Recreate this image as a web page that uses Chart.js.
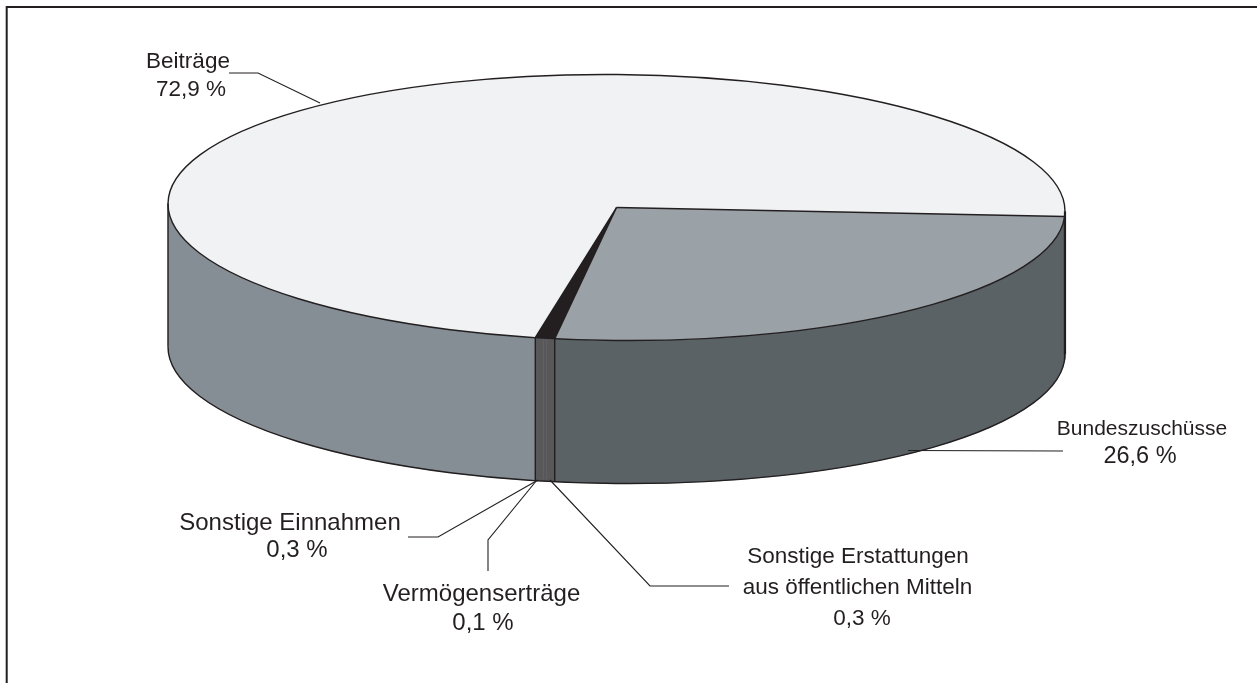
<!DOCTYPE html>
<html lang="de">
<head>
<meta charset="utf-8">
<title>Einnahmen</title>
<style>
  html, body { margin: 0; padding: 0; background: #fff; }
  canvas { display: block; }
</style>
<script src="https://cdn.jsdelivr.net/npm/chart.js@4"></script>
</head>
<body>
<canvas id="pieChart" width="1257" height="683"></canvas>
<script>
// Daten
const categories = ['Bundeszuschüsse', 'Sonstige Erstattungen aus öffentlichen Mitteln', 'Vermögenserträge', 'Sonstige Einnahmen', 'Beiträge'];
const shares = [26.6, 0.3, 0.1, 0.3, 72.9];
const topColors = ['#9aa1a7', '#231f20', '#231f20', '#231f20', '#f1f2f4'];
const sideColors = ['#5a6265', '#58585a', '#58585a', '#58585a', '#868e95'];

// Geometrie der flachgedrückten Torte (leicht gekippt wie im Original)
const pie = { cx: 616.5, cy: 207.5, rx: 448.5, ry: 133, depth: 143, tilt: 0.5 * Math.PI / 180 };
const inkColor = '#231f20';

// Beschriftungen: Zeilen als [Text oder null für den Prozentwert, x, Grundlinie, Schriftgröße]
const labelLayout = [
  { index: 4, lines: [['Beiträge', 188, 68, 22.5], [null, 191, 96, 22.5]] },
  { index: 0, lines: [['Bundeszuschüsse', 1142, 435, 21], [null, 1140, 463, 23.5]] },
  { index: 3, lines: [['Sonstige Einnahmen', 290, 530, 24], [null, 297, 557, 24]] },
  { index: 2, lines: [['Vermögenserträge', 481.5, 601, 24], [null, 483, 630, 24]] },
  { index: 1, lines: [['Sonstige Erstattungen', 858, 563, 22.5], ['aus öffentlichen Mitteln', 857.5, 594, 22.5], [null, 862, 625, 22.5]] }
];
const leaders = [
  [[229, 73], [258, 73], [320, 103]],
  [[908, 450.5], [1063, 451]],
  [[408, 537], [438, 537], [538, 480]],
  [[488, 571], [488, 540], [537, 480]],
  [[729, 586], [650, 586], [550, 480]]
];

function percentText(value) {
  return value.toFixed(1).replace('.', ',') + ' %';
}

// Punkt auf dem Deckelrand
function rimPoint(angle) {
  const ex = pie.rx * Math.cos(angle);
  const ey = pie.ry * Math.sin(angle);
  return {
    x: pie.cx + ex * Math.cos(pie.tilt) - ey * Math.sin(pie.tilt),
    y: pie.cy + ex * Math.sin(pie.tilt) + ey * Math.cos(pie.tilt)
  };
}

// Seitenwand eines Winkelbereichs als Pfad
function sidePath(ctx, a, b) {
  ctx.beginPath();
  ctx.ellipse(pie.cx, pie.cy, pie.rx, pie.ry, pie.tilt, a, b);
  ctx.ellipse(pie.cx, pie.cy + pie.depth, pie.rx, pie.ry, pie.tilt, b, a, true);
  ctx.closePath();
}

function drawSides(chart, ctx) {
  const arcs = chart.getDatasetMeta(0).data;
  arcs.forEach((arc, i) => {
    [0, -2 * Math.PI].forEach(shift => {
      const a = Math.max(arc.startAngle + shift, 0);
      const b = Math.min(arc.endAngle + shift, Math.PI);
      if (b <= a) return;
      sidePath(ctx, a, b);
      ctx.fillStyle = sideColors[i];
      ctx.strokeStyle = sideColors[i];
      ctx.lineWidth = 0.6;
      ctx.fill();
      ctx.stroke();
    });
  });
}

function drawOutlines(chart, ctx) {
  const arcs = chart.getDatasetMeta(0).data;

  // schmale Stücke zu einem dunklen Keil zusammenziehen, sonst bleiben helle Nähte
  ctx.fillStyle = topColors[1];
  ctx.beginPath();
  ctx.moveTo(pie.cx, pie.cy);
  ctx.ellipse(pie.cx, pie.cy, pie.rx, pie.ry, pie.tilt, arcs[1].startAngle, arcs[3].endAngle);
  ctx.closePath();
  ctx.fill();

  ctx.strokeStyle = inkColor;
  ctx.lineWidth = 1.4;

  // Deckel und vordere Unterkante
  ctx.beginPath();
  ctx.ellipse(pie.cx, pie.cy, pie.rx, pie.ry, pie.tilt, 0, 2 * Math.PI);
  ctx.stroke();
  ctx.beginPath();
  ctx.ellipse(pie.cx, pie.cy + pie.depth, pie.rx, pie.ry, pie.tilt, 0, Math.PI);
  ctx.stroke();

  // äußere Senkrechten
  [0, Math.PI].forEach(angle => {
    const p = rimPoint(angle);
    ctx.beginPath();
    ctx.moveTo(p.x, p.y);
    ctx.lineTo(p.x, p.y + pie.depth);
    ctx.lineWidth = angle === 0 ? 2.2 : 1.4;
    ctx.stroke();
  });
  ctx.lineWidth = 1.4;

  arcs.forEach((arc, i) => {
    const next = (i + 1) % arcs.length;
    // Trennlinien nur dort, wo die Farbe wechselt
    if (topColors[i] === topColors[next]) return;
    const p = rimPoint(arc.endAngle);
    ctx.beginPath();
    ctx.moveTo(pie.cx, pie.cy);
    ctx.lineTo(p.x, p.y);
    ctx.stroke();
    if (Math.sin(arc.endAngle) > 0) {
      ctx.beginPath();
      ctx.moveTo(p.x, p.y);
      ctx.lineTo(p.x, p.y + pie.depth);
      ctx.stroke();
    }
  });
}

function drawLabels(ctx) {
  ctx.strokeStyle = inkColor;
  ctx.lineWidth = 1.1;
  leaders.forEach(points => {
    ctx.beginPath();
    points.forEach((p, i) => i ? ctx.lineTo(p[0], p[1]) : ctx.moveTo(p[0], p[1]));
    ctx.stroke();
  });

  ctx.fillStyle = inkColor;
  ctx.textAlign = 'center';
  ctx.textBaseline = 'alphabetic';
  labelLayout.forEach(label => {
    label.lines.forEach(line => {
      const text = line[0] === null ? percentText(shares[label.index]) : line[0];
      ctx.font = line[3] + 'px "Liberation Sans", Arial, sans-serif';
      ctx.fillText(text, line[1], line[2]);
    });
  });
}

function drawFrame(chart, ctx) {
  ctx.strokeStyle = inkColor;
  ctx.lineWidth = 2;
  ctx.beginPath();
  ctx.moveTo(6.7, chart.height);
  ctx.lineTo(6.7, 7);
  ctx.lineTo(chart.width, 7);
  ctx.stroke();
}

// Plugin: die Tortenstücke der Bibliothek auf die Ellipse abbilden
const pie3d = {
  id: 'pie3d',
  beforeDatasetsDraw(chart) {
    const ctx = chart.ctx;
    const first = chart.getDatasetMeta(0).data[0];
    drawFrame(chart, ctx);
    drawSides(chart, ctx);
    ctx.save();
    ctx.translate(pie.cx, pie.cy);
    ctx.rotate(pie.tilt);
    ctx.scale(pie.rx / first.outerRadius, pie.ry / first.outerRadius);
    ctx.translate(-first.x, -first.y);
  },
  afterDatasetsDraw(chart) {
    const ctx = chart.ctx;
    ctx.restore();
    drawOutlines(chart, ctx);
    drawLabels(ctx);
  }
};

new Chart(document.getElementById('pieChart').getContext('2d'), {
  type: 'pie',
  data: {
    labels: categories,
    datasets: [{
      data: shares,
      backgroundColor: topColors,
      borderWidth: 0,
      clip: false
    }]
  },
  options: {
    responsive: false,
    animation: false,
    rotation: 92.2,
    layout: { padding: 0 },
    plugins: { legend: { display: false }, tooltip: { enabled: false } }
  },
  plugins: [pie3d]
});
</script>
</body>
</html>
